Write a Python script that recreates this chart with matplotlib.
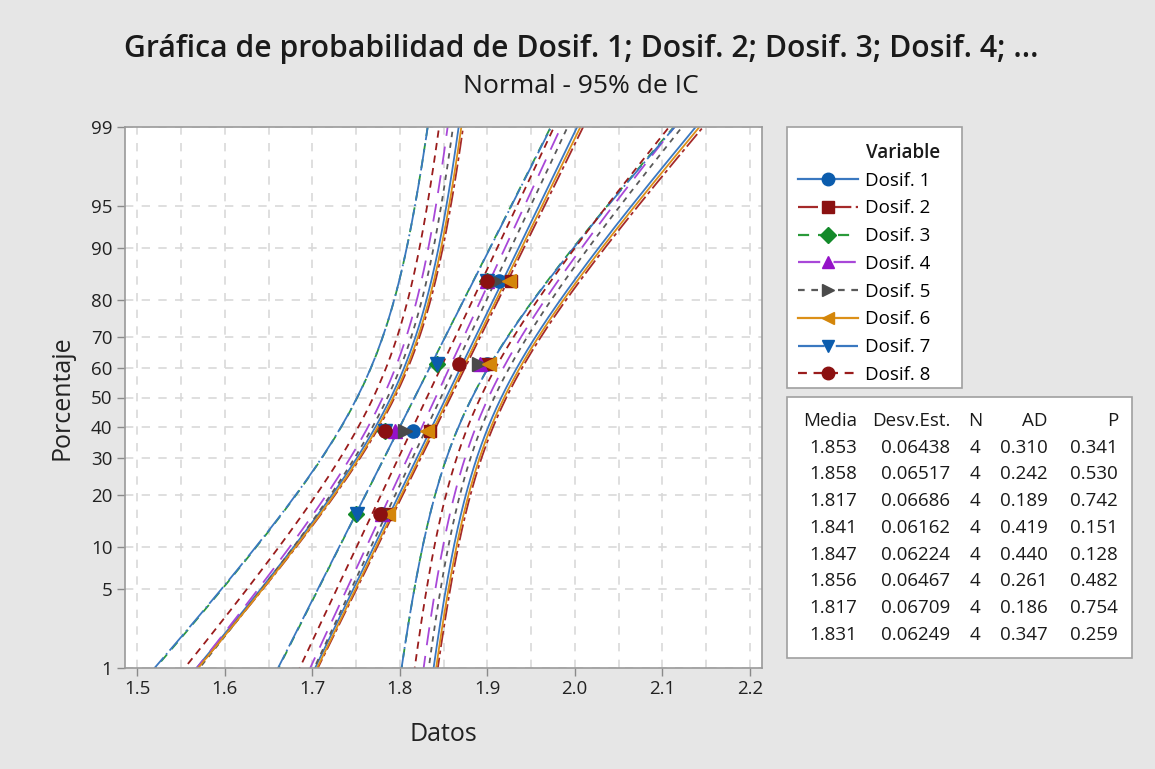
import numpy as np
import matplotlib
matplotlib.use("Agg")
import matplotlib.pyplot as plt
from matplotlib.lines import Line2D
from matplotlib.patches import Rectangle
from statistics import NormalDist

plt.rcParams['font.family'] = ['Open Sans', 'DejaVu Sans']

# ---------------- data ----------------
variables = ["Dosif. 1", "Dosif. 2", "Dosif. 3", "Dosif. 4",
             "Dosif. 5", "Dosif. 6", "Dosif. 7", "Dosif. 8"]
media = [1.853, 1.858, 1.817, 1.841, 1.847, 1.856, 1.817, 1.831]
desv = [0.06438, 0.06517, 0.06686, 0.06162, 0.06224, 0.06467, 0.06709, 0.06249]
n_obs = [4, 4, 4, 4, 4, 4, 4, 4]
ad_stat = [0.310, 0.242, 0.189, 0.419, 0.440, 0.261, 0.186, 0.347]
p_val = [0.341, 0.530, 0.742, 0.151, 0.128, 0.482, 0.754, 0.259]

dosif1 = [1.780, 1.815, 1.900, 1.913]
dosif2 = [1.787, 1.834, 1.900, 1.927]
dosif3 = [1.750, 1.783, 1.843, 1.900]
dosif4 = [1.780, 1.794, 1.892, 1.900]
dosif5 = [1.787, 1.806, 1.890, 1.910]
dosif6 = [1.787, 1.831, 1.902, 1.925]
dosif7 = [1.751, 1.783, 1.843, 1.900]
dosif8 = [1.777, 1.783, 1.868, 1.900]
datasets = [dosif1, dosif2, dosif3, dosif4, dosif5, dosif6, dosif7, dosif8]

pct_ticks = [1, 5, 10, 20, 30, 40, 50, 60, 70, 80, 90, 95, 99]
x_ticks = [1.5, 1.6, 1.7, 1.8, 1.9, 2.0, 2.1, 2.2]

# ---------------- styles ----------------
line_colors = ['#3a78c0', '#a52a2a', '#2a9a3a', '#a848d8', '#5a5a5a', '#dc9018', '#3a78c0', '#9a1c1c']
marker_colors = ['#0b5cad', '#8b1111', '#138a2a', '#9512c8', '#4a4a4a', '#d4860a', '#0b5cad', '#8b1111']
markers = ['o', 's', 'D', '^', '>', '<', 'v', 'o']
msizes = [9.5, 9, 8.5, 9.5, 9.5, 9.5, 9.5, 9.5]
dashes = [None, (9, 2, 2, 2), (5, 4), (10, 6), (3, 3), None, (12, 2, 1, 2), (4, 3)]

ND = NormalDist()

def fwd(p):
    p = np.clip(np.asarray(p, dtype=float), 1e-9, 100 - 1e-9)
    return np.vectorize(lambda v: ND.inv_cdf(v / 100.0))(p) if p.size else p

def inv(z):
    z = np.asarray(z, dtype=float)
    return np.vectorize(lambda v: 100.0 * ND.cdf(v))(z) if z.size else z

fig = plt.figure(figsize=(11.55, 7.69), dpi=100)
fig.patch.set_facecolor('#e6e6e6')
ax = fig.add_axes([125 / 1155, 1 - 668 / 769, (762 - 125) / 1155, (668 - 127) / 769])
ax.set_facecolor('white')
ax.set_yscale('function', functions=(fwd, inv))

zlo, zhi = ND.inv_cdf(0.01), ND.inv_cdf(0.99)
zz = np.linspace(zlo - 0.05, zhi + 0.05, 300)
pp = 100.0 * np.array([ND.cdf(v) for v in zz])
zcrit = ND.inv_cdf(0.975)

for i in range(len(variables)):
    mu, s, n = media[i], desv[i], n_obs[i]
    fit = mu + zz * s
    half = zcrit * s * np.sqrt(1.0 / n + zz ** 2 / (2.0 * (n - 1)))
    for xs in (fit - half, fit, fit + half):
        ln, = ax.plot(xs, pp, color=line_colors[i], lw=1.3, zorder=2)
        if dashes[i] is not None:
            ln.set_dashes(dashes[i])
for i, d in enumerate(datasets):
    vals = np.sort(np.array(d))
    k = len(vals)
    ppos = 100.0 * (np.arange(1, k + 1) - 0.3) / (k + 0.4)
    ax.plot(vals, ppos, linestyle='none', marker=markers[i], ms=msizes[i],
            color=marker_colors[i], mec=marker_colors[i], zorder=3 + i)

ax.set_xlim(1.486, 2.214)
ax.set_ylim(1, 99)
ax.set_yticks(pct_ticks)
ax.set_yticklabels([str(t) for t in pct_ticks])
ax.yaxis.set_minor_locator(matplotlib.ticker.NullLocator())
ax.set_xticks(x_ticks)
ax.set_xticklabels([f"{t:.1f}" for t in x_ticks])
ax.set_xticks(np.arange(1.55, 2.21, 0.1), minor=True)

grid_kw = dict(color='#d9d9d9', linestyle=(0, (5, 5)), linewidth=1.2)
ax.grid(True, which='major', axis='both', **grid_kw)
ax.grid(True, which='minor', axis='x', **grid_kw)
ax.set_axisbelow(True)
ax.tick_params(axis='both', which='major', direction='out', length=6, width=1,
               color='#8a8a8a', labelsize=13.5, labelcolor='#222222', pad=3)
ax.tick_params(axis='x', which='minor', length=0)
for sp in ax.spines.values():
    sp.set_color('#9a9a9a')
    sp.set_linewidth(1.2)

ax.set_xlabel('Datos', fontsize=18, color='#222222', labelpad=17)
ax.set_ylabel('Porcentaje', fontsize=18, color='#222222', labelpad=12)

fig.text(0.503, 0.936, 'Gráfica de probabilidad de Dosif. 1; Dosif. 2; Dosif. 3; Dosif. 4; ...',
         ha='center', va='center', fontsize=21.7, fontweight='semibold', color='#1a1a1a')
fig.text(0.503, 0.888, 'Normal - 95% de IC', ha='center', va='center', fontsize=19, color='#1a1a1a')

# legend box (drawn explicitly) and legend contents
fig.patches.append(Rectangle((787 / 1155, 1 - 388 / 769), (962 - 787) / 1155, (388 - 127) / 769,
                             transform=fig.transFigure, facecolor='white', edgecolor='#a0a0a0',
                             lw=1.2, zorder=0))
fig.text(866 / 1155, 1 - 153 / 769, 'Variable', ha='left', va='center',
         fontsize=13.5, fontweight='semibold', color='#1a1a1a')
handles = []
for i in range(len(variables)):
    h = Line2D([0], [0], color=line_colors[i], lw=1.6, marker=markers[i], ms=msizes[i] - 0.5,
               mfc=marker_colors[i], mec=marker_colors[i])
    if dashes[i] is not None:
        h.set_dashes(dashes[i])
    handles.append(h)
leg = fig.legend(handles, variables, loc='upper left',
                 bbox_to_anchor=(793 / 1155, 1 - 167 / 769), bbox_transform=fig.transFigure,
                 borderaxespad=0, frameon=False,
                 fontsize=13.5, handlelength=3.2, handletextpad=0.4, labelspacing=0.52,
                 borderpad=0.25, numpoints=1)

# statistics table
fig.patches.append(Rectangle((787 / 1155, 1 - 658 / 769), (1132 - 787) / 1155, (658 - 397) / 769,
                             transform=fig.transFigure, facecolor='white', edgecolor='#a0a0a0',
                             lw=1.2, zorder=0))
cols_x = [857, 950, 975, 1048, 1118]
cols_ha = ['right', 'right', 'center', 'right', 'right']
headers = ['Media', 'Desv.Est.', 'N', 'AD', 'P']
row0 = 421
pitch = 26.7
tkw = dict(fontsize=13.5, color='#1a1a1a', va='center')
for cx, ha, hd in zip(cols_x, cols_ha, headers):
    fig.text(cx / 1155, 1 - row0 / 769, hd, ha=ha, **tkw)
for r in range(len(variables)):
    y = 1 - (row0 + pitch * (r + 1)) / 769
    row = [f"{media[r]:.3f}", f"{desv[r]:.5f}", f"{n_obs[r]}", f"{ad_stat[r]:.3f}", f"{p_val[r]:.3f}"]
    for cx, ha, txt in zip(cols_x, cols_ha, row):
        fig.text(cx / 1155, y, txt, ha=ha, **tkw)

fig.savefig('out.png', dpi=100, facecolor=fig.get_facecolor())
